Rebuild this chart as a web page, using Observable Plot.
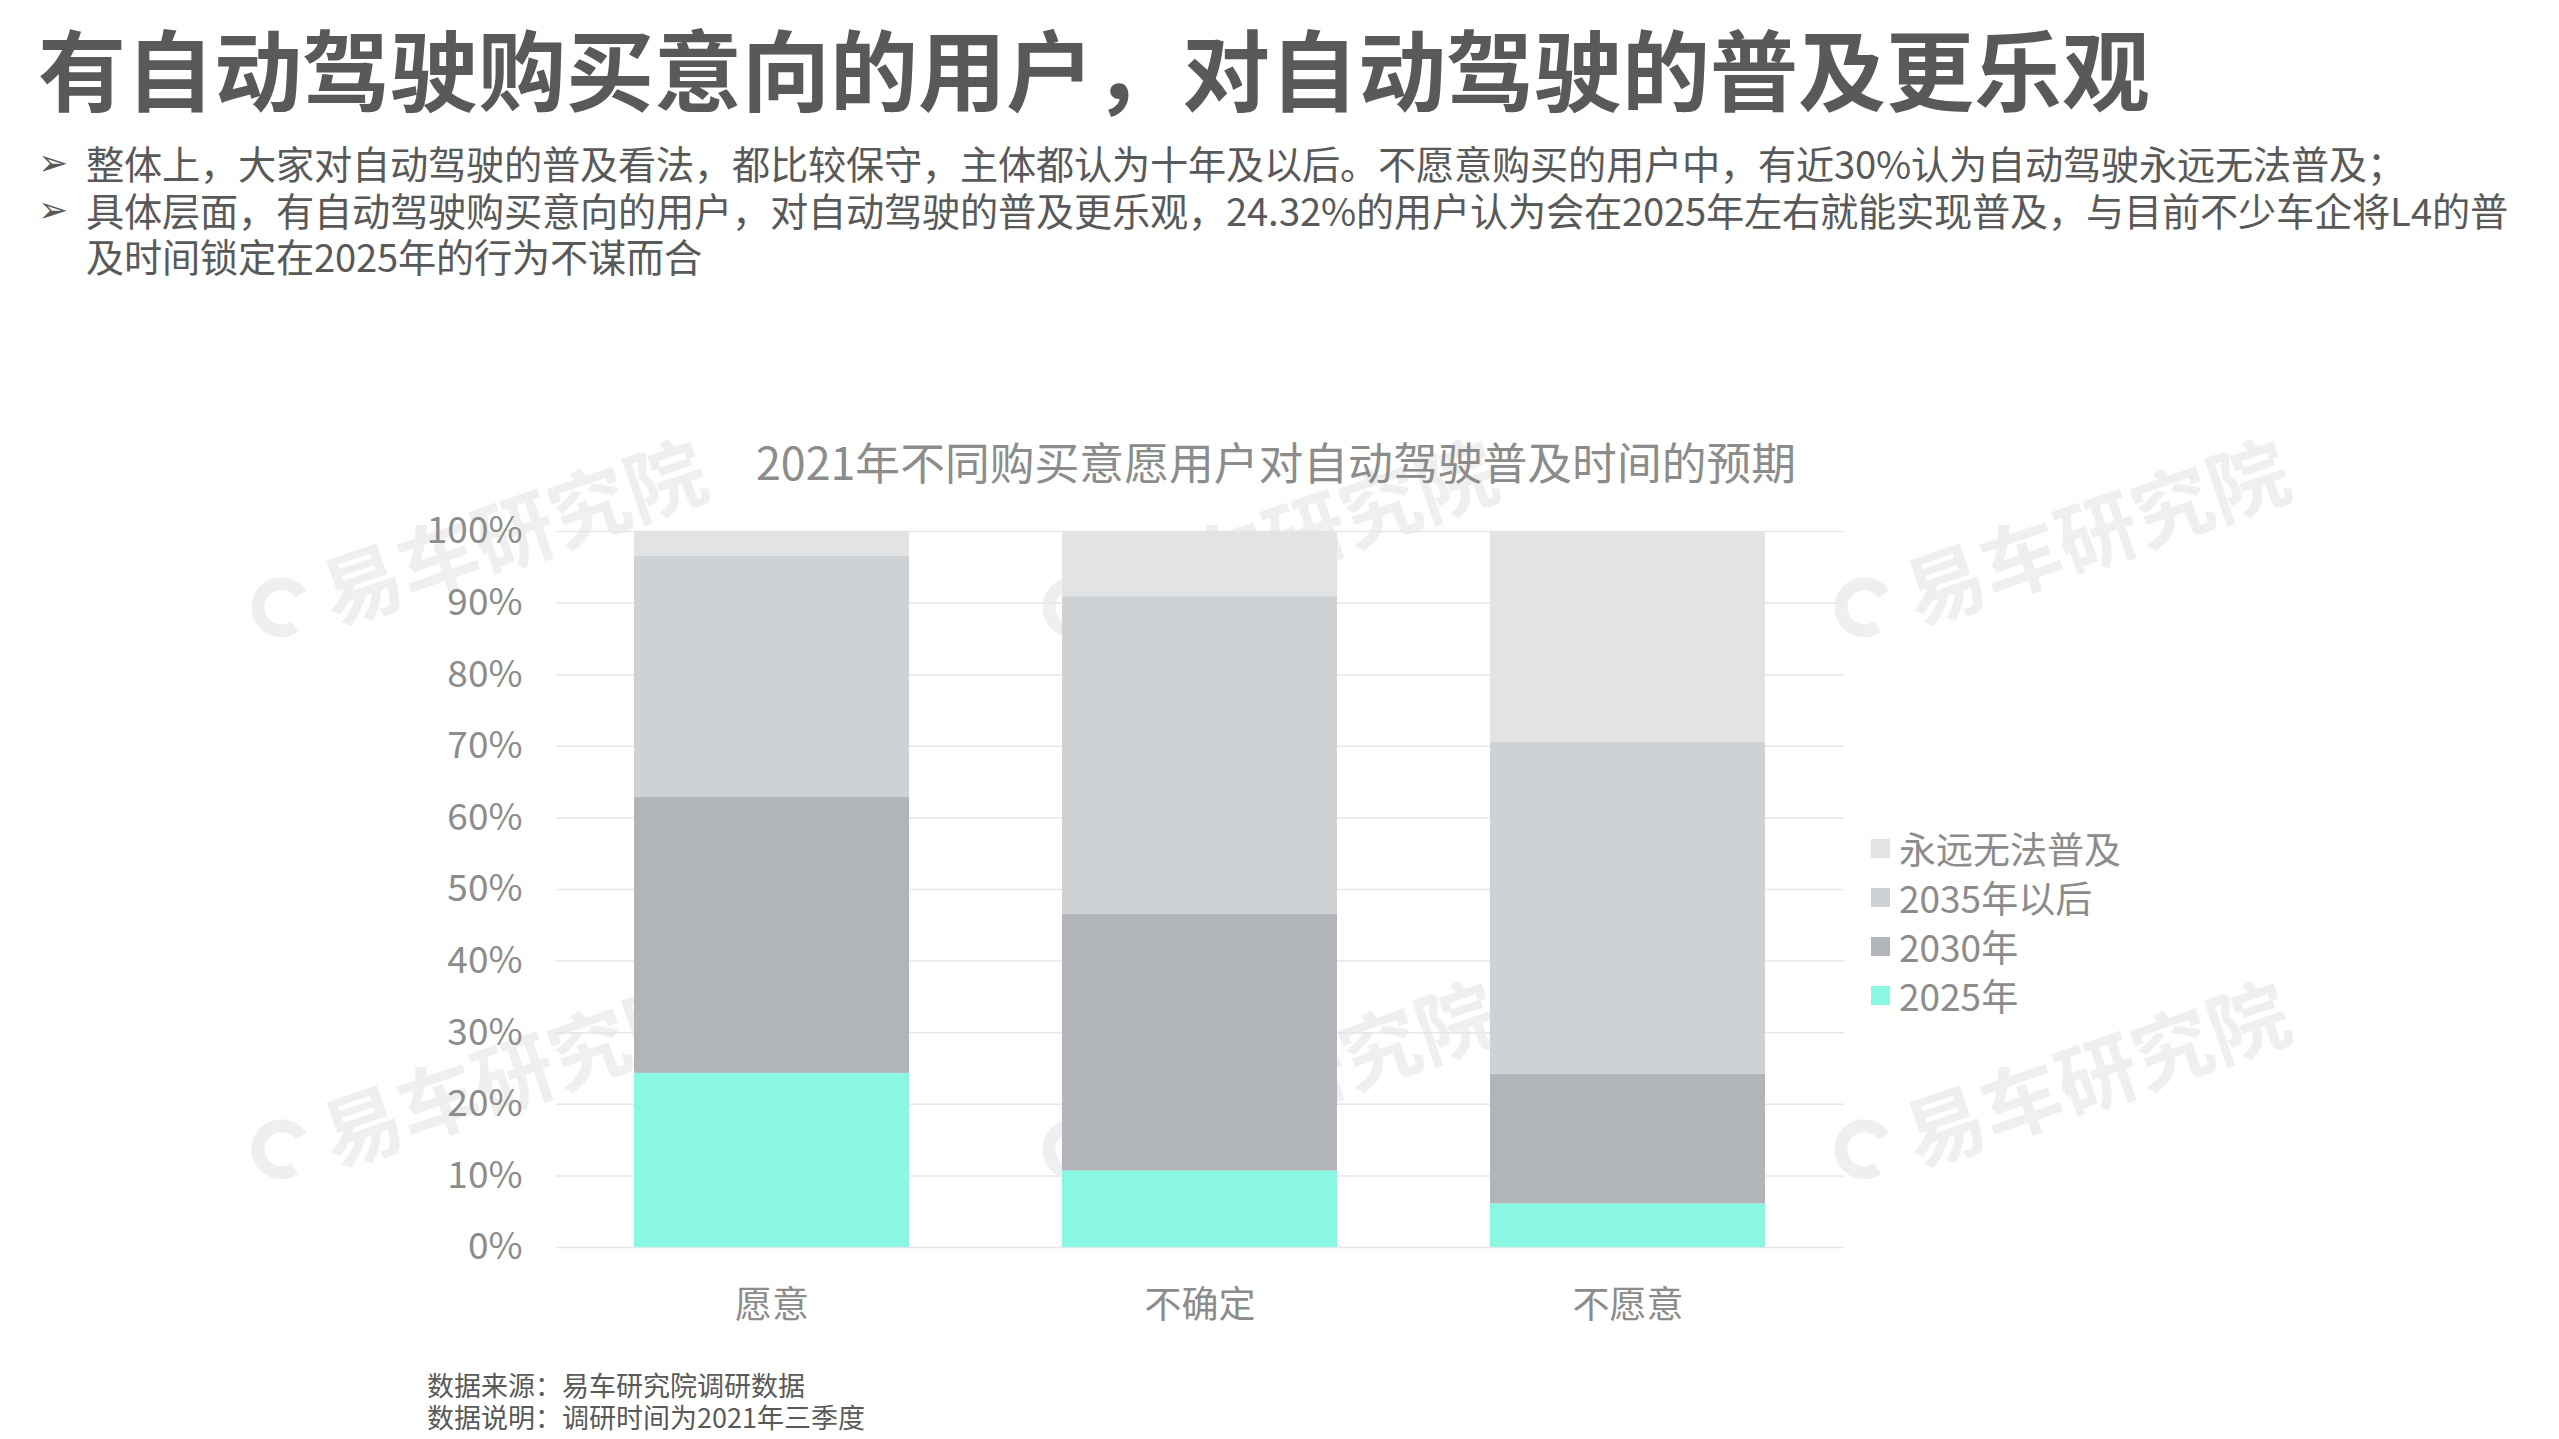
<!DOCTYPE html>
<html>
<head>
<meta charset="utf-8">
<script src="https://cdn.jsdelivr.net/npm/d3@7"></script>
<script src="https://cdn.jsdelivr.net/npm/@observablehq/plot@0.6"></script>
<style>
  @font-face {
    font-family: "CJKTight";
    src: local("Noto Sans CJK SC"), local("Noto Sans CJK SC Regular"), local("NotoSansCJKsc-Regular");
    font-weight: 400;
    ascent-override: 88%;
    descent-override: 12%;
    line-gap-override: 0%;
  }
  html, body { margin: 0; padding: 0; background: #ffffff; }
  #page { position: relative; width: 2559px; height: 1439px; overflow: hidden; font-family: "Noto Sans CJK SC", "Noto Sans", sans-serif; }
  .abs { position: absolute; white-space: nowrap; }
  #title { left: 38px; top: 6px; font-size: 88px; font-weight: 700; color: #595959; line-height: 120px; }
  #bullets { left: 86px; top: 142px; font-size: 38.2px; color: #595959; line-height: 46.5px; font-family: "CJKTight", "Noto Sans CJK SC", sans-serif; }
  #arrows { left: 38px; top: 140px; font-size: 36px; color: #595959; line-height: 46.5px; font-family: "DejaVu Sans", sans-serif; }
  #ctitle { left: 736px; width: 1080px; text-align: center; top: 432px; font-size: 44.8px; color: #8c8c8c; line-height: 58px; }
  #chart { left: 0px; top: 500px; }
  #legend { left: 1871px; top: 824px; font-size: 37px; color: #8c8c8c; line-height: 49px; }
  .leg { display: flex; align-items: center; height: 49px; }
  .leg .sw { width: 19px; height: 19px; margin-right: 9px; display: inline-block; }
  #foot { left: 427px; top: 1370px; font-size: 27px; color: #595959; line-height: 32px; font-family: "CJKTight", "Noto Sans CJK SC", sans-serif; }
  .wm { position: absolute; transform: rotate(-19deg); transform-origin: left center; color: #efefef; font-size: 80px; font-weight: 700; white-space: nowrap; display: flex; align-items: center; line-height: 100px; }
  .wm .logo { width: 34px; height: 34px; border: 13px solid #efefef; border-right-color: transparent; border-radius: 50%; margin-right: 14px; display: inline-block; transform: rotate(30deg); }
</style>
</head>
<body>
<div id="page">
</div>
<script>
// ---- Data ----
const categories = ["愿意", "不确定", "不愿意"];
const series = ["2025年", "2030年", "2035年以后", "永远无法普及"];
const v2025 = [24.32, 10.7, 6.1];
const v2030 = [38.6, 35.8, 18.1];
const v2035 = [33.6, 44.4, 46.4];
const vNever = [3.5, 9.1, 29.4];
const seriesColors = ["#8af7e3", "#b1b5b9", "#cfd2d5", "#e2e3e5"];
const yTicks = [0, 10, 20, 30, 40, 50, 60, 70, 80, 90, 100];
const legendOrder = ["永远无法普及", "2035年以后", "2030年", "2025年"];

const titleText = "有自动驾驶购买意向的用户，对自动驾驶的普及更乐观";
const bulletLines = [
  "整体上，大家对自动驾驶的普及看法，都比较保守，主体都认为十年及以后。不愿意购买的用户中，有近30%认为自动驾驶永远无法普及；",
  "具体层面，有自动驾驶购买意向的用户，对自动驾驶的普及更乐观，24.32%的用户认为会在2025年左右就能实现普及，与目前不少车企将L4的普",
  "及时间锁定在2025年的行为不谋而合"
];
const chartTitle = "2021年不同购买意愿用户对自动驾驶普及时间的预期";
const footLines = ["数据来源：易车研究院调研数据", "数据说明：调研时间为2021年三季度"];
const watermarkText = "易车研究院";

const valuesBySeries = [v2025, v2030, v2035, vNever];
const data = categories.flatMap((c, i) => series.map((s, j) => ({category: c, series: s, value: valuesBySeries[j][i]})));

const page = document.getElementById("page");
function add(cls, id) {
  const d = document.createElement("div");
  d.className = cls;
  if (id) d.id = id;
  page.appendChild(d);
  return d;
}
function lines(el, arr) {
  arr.forEach((l, i) => {
    if (i) el.appendChild(document.createElement("br"));
    el.appendChild(document.createTextNode(l));
  });
}

// Watermarks (behind chart)
const wmPos = [[253, 567], [1044, 567], [1836, 567], [253, 1109], [1044, 1109], [1836, 1109]];
for (const [x, y] of wmPos) {
  const w = add("wm");
  w.style.left = x + "px"; w.style.top = y + "px";
  const logo = document.createElement("span"); logo.className = "logo"; w.appendChild(logo);
  const t = document.createElement("span"); t.textContent = watermarkText; w.appendChild(t);
}

add("abs", "title").textContent = titleText;
lines(add("abs", "bullets"), bulletLines);
lines(add("abs", "arrows"), ["➢", "➢"]);
add("abs", "ctitle").textContent = chartTitle;

const chart = Plot.plot({
  width: 1900,
  height: 847,
  marginLeft: 556,
  marginRight: 56,
  marginTop: 31,
  marginBottom: 100,
  style: {fontFamily: "'Noto Sans CJK SC', 'Noto Sans', sans-serif", fontSize: "37px", color: "#8c8c8c", background: "transparent", overflow: "visible"},
  x: {domain: categories, paddingInner: 0.357, paddingOuter: 0.18, label: null},
  y: {domain: [0, 100], label: null},
  color: {domain: series, range: seriesColors},
  marks: [
    Plot.gridY(yTicks, {stroke: "#e6e6e6", strokeOpacity: 1, strokeWidth: 1.5}),
    Plot.barY(data, {x: "category", y: "value", fill: "series", order: series}),
    Plot.axisY(yTicks, {tickFormat: d => d + "%", tickSize: 0, tickPadding: 34, fontSize: 37, label: null}),
    Plot.axisX({tickSize: 0, tickPadding: 44, fontSize: 37, label: null})
  ]
});
add("abs", "chart").appendChild(chart);

// Legend
const legend = add("abs", "legend");
legendOrder.forEach((s) => {
  const row = document.createElement("div"); row.className = "leg";
  const sw = document.createElement("span"); sw.className = "sw"; sw.style.background = seriesColors[series.indexOf(s)];
  row.appendChild(sw);
  const t = document.createElement("span"); t.textContent = s; row.appendChild(t);
  legend.appendChild(row);
});

// Footnotes
lines(add("abs", "foot"), footLines);
</script>
</body>
</html>
